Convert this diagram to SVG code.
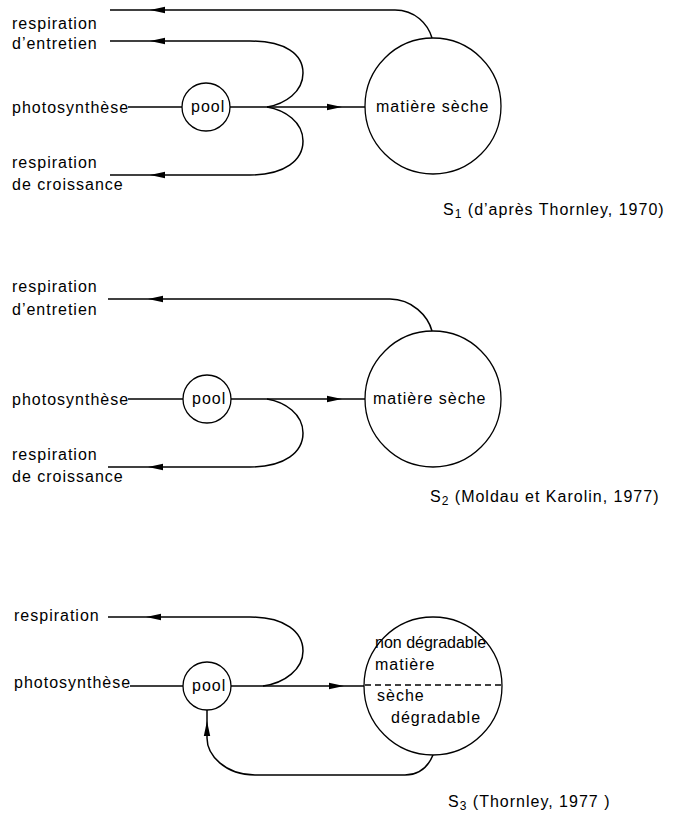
<svg xmlns="http://www.w3.org/2000/svg" width="683" height="813" viewBox="0 0 683 813">
<style>
text{font-family:"Liberation Sans","DejaVu Sans",sans-serif;font-size:16px;fill:#000;letter-spacing:1px}
.ln{fill:none;stroke:#000;stroke-width:1.5}
.nd{fill:#fff;stroke:#000;stroke-width:1.3}
.dash{fill:none;stroke:#000;stroke-width:1.4;stroke-dasharray:6 4}
.sub{font-size:12px}
</style>
<defs>
<marker id="ah" viewBox="0 0 15 8" refX="15" refY="4" markerWidth="15" markerHeight="8" markerUnits="userSpaceOnUse" orient="auto">
<path d="M0,0.8 L15,4 L0,7.2 Z" fill="#000"/>
</marker>
</defs>

<g id="connectors">
<!-- S1 -->
<path class="ln" d="M432,38 C428,24 415,10 395,10 L150,10" marker-end="url(#ah)"/>
<path class="ln" d="M150,10 L110,10"/>
<path class="ln" d="M267,107 C285,104 303,92 303,73 C303,54 285,41 250,41 L150,41" marker-end="url(#ah)"/>
<path class="ln" d="M150,41 L110,41"/>
<path class="ln" d="M267,107 C285,110 303,122 303,141 C303,160 285,175 250,175 L150,175" marker-end="url(#ah)"/>
<path class="ln" d="M150,175 L110,175"/>
<path class="ln" d="M128,107 L182,107"/>
<path class="ln" d="M230,107 L342,107" marker-end="url(#ah)"/>
<path class="ln" d="M342,107 L365,107"/>
<!-- S2 -->
<path class="ln" d="M432,331 C428,316 412,299 390,299 L148,299" marker-end="url(#ah)"/>
<path class="ln" d="M148,299 L108,299"/>
<path class="ln" d="M267,399 C285,402 303,414 303,433 C303,452 285,467 250,467 L148,467" marker-end="url(#ah)"/>
<path class="ln" d="M148,467 L108,467"/>
<path class="ln" d="M128,399 L183,399"/>
<path class="ln" d="M231,399 L342,399" marker-end="url(#ah)"/>
<path class="ln" d="M342,399 L365,399"/>
<!-- S3 -->
<path class="ln" d="M263,686 C285,683 303,669 303,651 C303,632 285,617 250,617 L146,617" marker-end="url(#ah)"/>
<path class="ln" d="M146,617 L108,617"/>
<path class="ln" d="M130,686 L183,686"/>
<path class="ln" d="M231,686 L344,686" marker-end="url(#ah)"/>
<path class="ln" d="M344,686 L365,686"/>
<path class="ln" d="M433,755 C428,767 419,775 405,775 L255,775 C225,775 207,755 207,738 L207,721" marker-end="url(#ah)"/>
<path class="ln" d="M207,721 L207,710"/>
</g>

<g id="s1-pool"><circle class="nd" cx="206" cy="107" r="24"/><text x="191" y="112">pool</text></g>
<g id="s1-ms"><circle class="nd" cx="433" cy="106" r="68"/><text x="376" y="112">matière sèche</text></g>
<g id="s1-labels">
<text x="12" y="29">respiration</text>
<text x="12" y="49">d’entretien</text>
<text x="12" y="113">photosynthèse</text>
<text x="12" y="168">respiration</text>
<text x="12" y="190">de croissance</text>
<text x="443" y="215">S<tspan class="sub" dy="3">1</tspan><tspan dy="-3"> (d’après Thornley, 1970)</tspan></text>
</g>

<g id="s2-pool"><circle class="nd" cx="207" cy="399" r="24"/><text x="192" y="404">pool</text></g>
<g id="s2-ms"><circle class="nd" cx="433" cy="399" r="68"/><text x="373" y="404">matière sèche</text></g>
<g id="s2-labels">
<text x="12" y="292">respiration</text>
<text x="12" y="315">d’entretien</text>
<text x="12" y="405">photosynthèse</text>
<text x="12" y="460">respiration</text>
<text x="12" y="482">de croissance</text>
<text x="430" y="502">S<tspan class="sub" dy="3">2</tspan><tspan dy="-3"> (Moldau et Karolin, 1977)</tspan></text>
</g>

<g id="s3-pool"><circle class="nd" cx="207" cy="686" r="24"/><text x="192" y="691">pool</text></g>
<g id="s3-ms">
<circle class="nd" cx="433" cy="686" r="69"/>
<path class="dash" d="M365,685 L502,685"/>
<text x="375" y="648" style="letter-spacing:0">non dégradable</text>
<text x="375" y="670">matière</text>
<text x="377" y="701">sèche</text>
<text x="391" y="723">dégradable</text>
</g>
<g id="s3-labels">
<text x="14" y="621">respiration</text>
<text x="14" y="688">photosynthèse</text>
<text x="448" y="807">S<tspan class="sub" dy="3">3</tspan><tspan dy="-3"> (Thornley, 1977 )</tspan></text>
</g>
</svg>
